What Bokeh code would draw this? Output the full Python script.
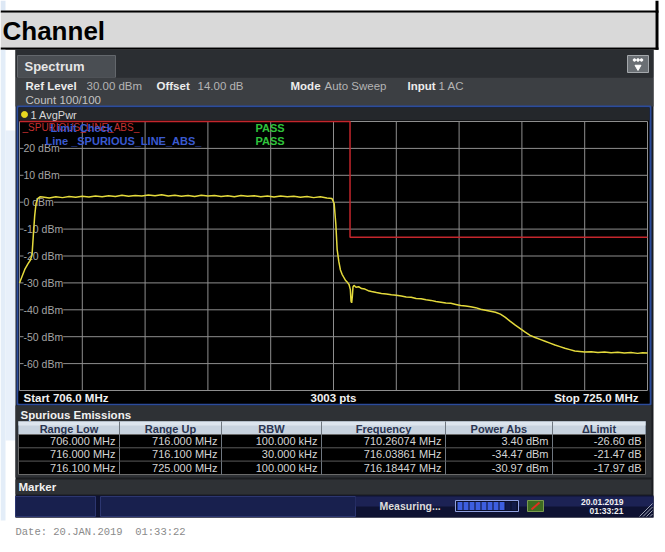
from bokeh.plotting import figure
from bokeh.models import Range1d
from bokeh.core.properties import value
from bokeh.embed import file_html
from bokeh.resources import INLINE

# ---------------- data ----------------
START_MHZ = 706.0
STOP_MHZ = 725.0
REF_TOP_DBM = 30.0
BOTTOM_DBM = -70.0

FREQ_GRID = [707.9, 709.8, 711.7, 713.6, 715.5, 717.4, 719.3, 721.2, 723.1]
DBM_GRID = [20, 10, 0, -10, -20, -30, -40, -50, -60]
DBM_LABELS = ["20 dBm", "10 dBm", "0 dBm", "-10 dBm", "-20 dBm",
              "-30 dBm", "-40 dBm", "-50 dBm", "-60 dBm"]

TRACE_MHZ = [706.00, 706.08, 706.16, 706.25, 706.33, 706.38, 706.42, 706.46, 706.50, 706.55, 706.62,
             706.7, 706.9, 707.1, 707.3, 707.5, 707.7, 707.9, 708.1, 708.3, 708.5,
             708.7, 708.9, 709.1, 709.3, 709.5, 709.7, 709.9, 710.1, 710.3, 710.5,
             710.7, 710.9, 711.1, 711.3, 711.5, 711.7, 711.9, 712.1, 712.3, 712.5,
             712.7, 712.9, 713.1, 713.3, 713.5, 713.7, 713.9, 714.1, 714.3, 714.5,
             714.7, 714.9, 715.1, 715.3, 715.45,
             715.52, 715.57, 715.61, 715.66, 715.71, 715.76, 715.81, 715.86, 715.92, 715.97,
             716.01, 716.03, 716.05, 716.07, 716.09, 716.12, 716.18, 716.26, 716.35, 716.45,
             716.55, 716.65, 716.8, 716.95, 717.1, 717.25, 717.4, 717.55, 717.7, 717.85,
             718.0, 718.15, 718.3, 718.45, 718.6, 718.75, 718.9, 719.05, 719.2, 719.35,
             719.5, 719.65, 719.8, 719.95, 720.1, 720.25, 720.4, 720.55, 720.7, 720.85,
             721.0, 721.15, 721.3, 721.45, 721.6, 721.75, 721.9, 722.05, 722.2, 722.35,
             722.5, 722.65, 722.8, 722.95, 723.1, 723.3, 723.5, 723.7, 723.9, 724.1,
             724.3, 724.5, 724.7, 724.85, 725.0]
TRACE_DBM = [-30.0, -27.5, -25.0, -23.0, -21.5, -19.5, -12.0, -5.0, -0.5, 1.3, 2.0,
             1.9, 1.6, 2.0, 1.7, 2.1, 1.8, 2.2, 1.9, 2.3, 2.0,
             2.4, 2.1, 2.6, 2.2, 2.5, 2.3, 2.7, 2.4, 2.8, 2.3,
             2.6, 2.2, 2.5, 2.1, 2.6, 2.3, 2.5, 2.1, 2.4, 2.0,
             2.5, 2.2, 2.4, 2.0, 2.3, 1.9, 2.3, 2.0, 2.2, 1.8,
             2.1, 1.7, 2.0, 1.6, 1.4,
             -0.5, -8.0, -17.5, -22.0, -25.2, -26.8, -27.9, -29.0, -29.8, -30.6,
             -32.5, -36.8, -37.4, -35.0, -31.5, -30.9, -31.6, -31.4, -32.1, -32.3,
             -32.9, -33.2, -33.6, -33.9, -34.1, -34.4, -34.6, -34.9, -35.2, -35.3,
             -35.8, -35.9, -36.3, -36.5, -36.9, -37.2, -37.5, -37.6, -38.0, -38.4,
             -38.6, -38.9, -39.2, -39.8, -40.2, -40.5, -40.9, -41.6, -42.8, -44.3,
             -45.7, -47.0, -48.3, -49.5, -50.3, -51.0, -51.7, -52.4, -53.1, -53.7,
             -54.3, -54.8, -55.3, -55.5, -55.7, -55.6, -55.9, -55.7, -56.0, -55.8,
             -56.1, -55.9, -56.2, -56.0, -56.1]

LIMIT_MHZ = [706.0, 716.0, 716.0, 725.0]
LIMIT_DBM = [30.0, 30.0, -13.0, -13.0]

TABLE_HEADERS = ["Range Low", "Range Up", "RBW", "Frequency", "Power Abs", "\u0394Limit"]
RANGE_LOW = ["706.000 MHz", "716.000 MHz", "716.100 MHz"]
RANGE_UP = ["716.000 MHz", "716.100 MHz", "725.000 MHz"]
RBW = ["100.000 kHz", "30.000 kHz", "100.000 kHz"]
PEAK_FREQ = ["710.26074 MHz", "716.03861 MHz", "716.18447 MHz"]
POWER_ABS = ["3.40 dBm", "-34.47 dBm", "-30.97 dBm"]
DELTA_LIMIT = ["-26.60 dB", "-21.47 dB", "-17.97 dB"]

# ---------------- layout (page pixels) ----------------
W, H = 665, 552
OX, OY = 0, 0
GX0, GX1 = 19, 647      # grid area
GY0, GY1 = 121, 390

p = figure(width=W, height=H, x_range=Range1d(OX, OX + W), y_range=Range1d(OY + H, OY),
           output_backend="svg", toolbar_location=None, min_border=0,
           x_axis_type=None, y_axis_type=None,
           background_fill_color="white", border_fill_color="white",
           outline_line_color=None)

mpp = (STOP_MHZ - START_MHZ) / (GX1 - GX0)
dpp = (REF_TOP_DBM - BOTTOM_DBM) / (GY1 - GY0)
p.extra_x_ranges = {"f": Range1d(START_MHZ - (GX0 - OX) * mpp, STOP_MHZ + (OX + W - GX1) * mpp)}
p.extra_y_ranges = {"db": Range1d(BOTTOM_DBM - (OY + H - GY1) * dpp, REF_TOP_DBM + (GY0 - OY) * dpp)}

SANS = "Liberation Sans"


def box(l, t, r, b, fill, line=None, lw=1.0):
    p.quad(left=[l], right=[r], top=[t], bottom=[b], fill_color=fill,
           line_color=line, line_width=lw)


def txt(x, y, s, size=11.0, color="#d0d0d0", bold=False, align="left", font=SANS, **kw):
    p.text(x=[x], y=[y], text=[s], text_font=value(font), text_font_size=value(f"{size}px"),
           text_color=color, text_font_style="bold" if bold else "normal",
           text_align=align, text_baseline="middle", **kw)


# ---- page header "Channel" ----
box(0, 0, 5, 10, "#dde8f5")
box(0, 10, 658, 12.3, "black")
box(0, 12.3, 655, 47, "#d9d9d9")
box(0, 47, 658, 49.3, "black")
box(655, 0, 658, 49.3, "black")
txt(2, 30, "Channel", size=26, color="black", bold=True)

# left page strip
box(0, 49.3, 5, 520, "#e3edf8")
box(5, 130, 15, 440, "#e8f0fa")

# ---- instrument screen ----
box(15, 49.3, 653, 517, "#1b1d20")
box(15, 49.3, 653, 77, "#2b2e32")
box(17, 55, 115, 77, "#4a4e53", line="#63676c")
box(15, 77, 653, 106, "#3c3f43")
txt(24, 66, "Spectrum", size=13, color="#e6e6e6", bold=True)
box(627, 55, 648, 72, "#6a6f74", line="#a4a8ac")
p.scatter(x=[634, 637.5, 641], y=[59.5, 59.5, 59.5], size=2.6, color="white")
p.scatter(x=[637.5], y=[66.5], marker="inverted_triangle", size=6, color="white")

txt(25, 85, "Ref Level", size=11.5, color="#ececec", bold=True)
txt(86, 85, "30.00 dBm", size=11.5, color="#b4b4b4")
txt(156, 85, "Offset", size=11.5, color="#ececec", bold=True)
txt(197, 85, "14.00 dB", size=11.5, color="#b4b4b4")
txt(290, 85, "Mode", size=11.5, color="#ececec", bold=True)
txt(324, 85, "Auto Sweep", size=11.5, color="#b4b4b4")
txt(407, 85, "Input", size=11.5, color="#ececec", bold=True)
txt(438, 85, "1 AC", size=11.5, color="#b4b4b4")
txt(25, 99, "Count 100/100", size=11.5, color="#c4c4c4")

# plot window
box(17, 106, 650, 404, "black", line="#2c4c9c", lw=2)
box(18, 107, 649, 120, "#24272b")
p.scatter(x=[24], y=[114], size=6, color="#e8d820")
txt(30, 114, "1 AvgPwr", size=11, color="#d8d8d8")

# grid
n = len(FREQ_GRID)
p.segment(x0=FREQ_GRID, y0=[BOTTOM_DBM] * n, x1=FREQ_GRID, y1=[REF_TOP_DBM] * n,
          x_range_name="f", y_range_name="db", line_color="#8e8e8e", line_width=1)
hl = DBM_GRID + [REF_TOP_DBM, BOTTOM_DBM]
p.segment(x0=[START_MHZ] * len(hl), y0=hl, x1=[STOP_MHZ] * len(hl), y1=hl,
          x_range_name="f", y_range_name="db", line_color="#8e8e8e", line_width=1)
p.segment(x0=[START_MHZ, STOP_MHZ], y0=[BOTTOM_DBM] * 2, x1=[START_MHZ, STOP_MHZ], y1=[REF_TOP_DBM] * 2,
          x_range_name="f", y_range_name="db", line_color="#8e8e8e", line_width=1)
p.text(x=[23] * len(DBM_GRID), y=DBM_GRID, text=DBM_LABELS, y_range_name="db",
       text_font=value(SANS), text_font_size=value("10.5px"), text_color="#a4a4a4",
       text_baseline="middle", text_align="left", background_fill_color="black")

# limit line
p.line(x=LIMIT_MHZ, y=LIMIT_DBM, x_range_name="f", y_range_name="db",
       line_color="#c4262c", line_width=1.5)

# limit check texts
txt(22, 127, "_SPURIOUS_LINE_ABS_", size=10, color="#c43030")
txt(50, 127, "Limit Check", size=11, color="#3a5ad0", bold=True)
txt(255, 127, "PASS", size=11, color="#2fc43c", bold=True)
txt(45, 140.5, "Line _SPURIOUS_LINE_ABS_", size=11, color="#3a5ad0", bold=True)
txt(255, 140.5, "PASS", size=11, color="#2fc43c", bold=True)

# trace
p.line(x=TRACE_MHZ, y=TRACE_DBM, x_range_name="f", y_range_name="db",
       line_color="#e4da3c", line_width=1.5)

# bottom scale bar
box(18, 391, 649, 403, "black")
txt(23, 397.5, "Start 706.0 MHz", size=11.5, color="#f0f0f0", bold=True)
txt(333, 397.5, "3003 pts", size=11.5, color="#f0f0f0", bold=True, align="center")
txt(638, 397.5, "Stop 725.0 MHz", size=11.5, color="#f0f0f0", bold=True, align="right")

# ---- spurious emissions table ----
box(15, 405, 651, 477, "#2e3135")
txt(20, 414, "Spurious Emissions", size=11.5, color="#f0f0f0", bold=True)
EDGES = [18, 119, 221, 321, 445, 552, 645]
ROWS = [434, 447.3, 460.6, 474]
box(EDGES[0], 421, EDGES[-1], 434, "#c8d3df", line="#8a96a4")
box(EDGES[0], 421, EDGES[-1], 425, "#dde5ee")
box(EDGES[0], 434, EDGES[-1], 474, "black", line="#6a6a6a")
p.segment(x0=EDGES[1:-1], y0=[421] * 5, x1=EDGES[1:-1], y1=[474] * 5, line_color="#6f7780", line_width=1)
p.segment(x0=[EDGES[0]] * 2, y0=ROWS[1:3], x1=[EDGES[-1]] * 2, y1=ROWS[1:3], line_color="#5c5c5c", line_width=1)
for i, h in enumerate(TABLE_HEADERS):
    txt((EDGES[i] + EDGES[i + 1]) / 2, 428, h, size=11, color="#2a3450", bold=True, align="center")
columns = [RANGE_LOW, RANGE_UP, RBW, PEAK_FREQ, POWER_ABS, DELTA_LIMIT]
for i, col in enumerate(columns):
    ys = [(ROWS[k] + ROWS[k + 1]) / 2 for k in range(3)]
    p.text(x=[EDGES[i + 1] - 4] * 3, y=ys, text=col, text_font=value(SANS),
           text_font_size=value("11px"), text_color="#d4d4d4", text_align="right",
           text_baseline="middle")

# marker bar
box(15, 479, 651, 494, "#2e3135")
txt(18, 486.5, "Marker", size=11.5, color="#f0f0f0", bold=True)

# ---- status bar ----
box(15, 495, 653, 517, "#0e1232")
box(15, 496, 95, 516, "#18204e", line="#2c3670")
box(100, 496, 355, 516, "#18204e", line="#2c3670")
box(355, 496, 653, 506, "#1c2254")
txt(379, 505.5, "Measuring...", size=10.5, color="#dcdcdc", bold=True)
box(455, 500, 518, 511, "#0a0e2a", line="#8fa0e0")
for i in range(10):
    box(457 + i * 6, 501.5, 462 + i * 6, 509.5, "#3d5fe0" if i < 8 else "#111a48")
box(527, 500, 543, 511, "#3d6b20", line="#7a9a50")
p.line(x=[531, 539], y=[509, 502], line_color="#e03020", line_width=2)
txt(623, 501, "20.01.2019", size=8.5, color="#f0f0f0", bold=True, align="right")
txt(623, 510, "01:33:21", size=8.5, color="#f0f0f0", bold=True, align="right")
for k in range(4):
    p.line(x=[639 + k * 3.5, 652], y=[516, 503 + k * 3.5], line_color="#9aa0b0", line_width=1)

# date line
txt(15, 531, "Date: 20.JAN.2019 \u00a001:33:22", size=10.5, color="#8a8a8a", font="Liberation Mono")

open("out.html", "w").write(file_html(p, INLINE))
